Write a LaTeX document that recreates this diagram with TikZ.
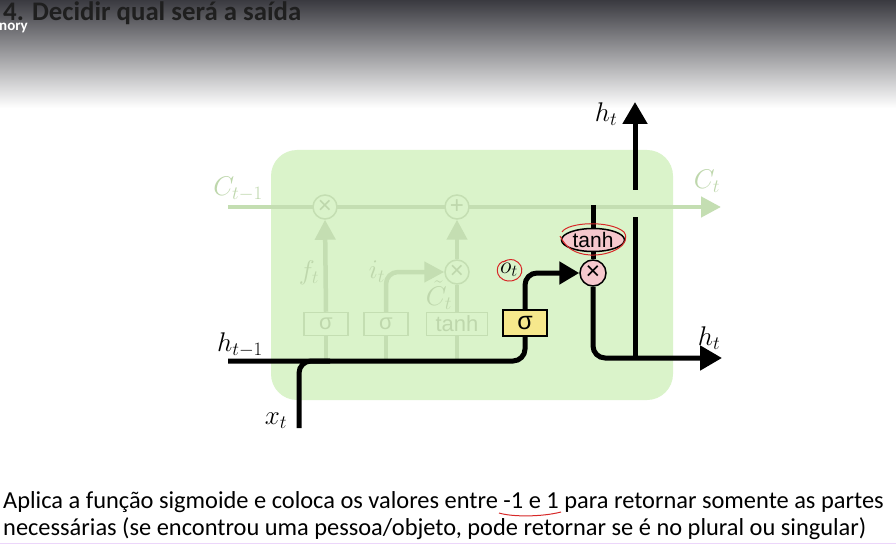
\RequirePackage{fix-cm}
\documentclass[tikz,border=0pt]{standalone}
\usepackage{fontspec}
\setmainfont{Carlito}
\newfontfamily\boxfont{Liberation Sans}
\usetikzlibrary{arrows.meta,shapes.geometric}
\definecolor{cellfill}{RGB}{218,243,202}
\definecolor{faded}{RGB}{196,222,178}
\definecolor{fadedtxt}{RGB}{190,215,172}
\definecolor{sigyellow}{RGB}{246,232,140}
\definecolor{opink}{RGB}{246,200,205}
\definecolor{topdark}{RGB}{58,58,64}
\definecolor{annot}{RGB}{215,40,40}
\tikzset{
  fline/.style={draw=faded,line width=4.5pt},
  bline/.style={draw=black,line width=5pt},
  ftip/.style={-{Triangle[length=20pt,width=20pt]}},
  fbox/.style={draw=faded,line width=1.5pt,fill=cellfill,minimum height=23pt,text=fadedtxt,font=\boxfont\fontsize{22}{22}\selectfont,inner sep=0pt},
  fcirc/.style={circle,draw=faded,line width=1.5pt,fill=cellfill,minimum size=24pt,inner sep=0pt,text=fadedtxt,font=\boxfont\fontsize{24}{24}\selectfont},
  flabel/.style={text=fadedtxt,font=\fontsize{27}{27}\selectfont,inner sep=0pt},
  blabel/.style={text=black,font=\fontsize{27}{27}\selectfont,inner sep=0pt},
  annotline/.style={draw=annot,line width=1pt},
  bodytext/.style={anchor=base west,inner sep=0pt,font=\fontsize{24.4}{24.4}\selectfont,text=black}
}
\begin{document}
\begin{tikzpicture}[x=1pt,y=-1pt]
\useasboundingbox (0,0) rectangle (896,545);
% background
\fill[white] (0,0) rectangle (896,545);
\shade[top color=topdark,bottom color=white] (0,0) rectangle (896,108);
\node[anchor=base west,inner sep=0pt,font=\fontsize{26.8}{26.8}\selectfont\bfseries,text=black!88] (title) at (3,21) {4. Decidir qual será a saída};
\node[anchor=base west,inner sep=0pt,font=\fontsize{15}{15}\selectfont\bfseries,text=white] (mem) at (-1,31) {nory};
% cell
\fill[cellfill,rounded corners=26pt] (271,150) rectangle (673,400);
% faded cell state line
\coordinate (cin) at (228,207);
\coordinate (cout) at (721,207);
\draw[fline,ftip] (cin) -- (cout);
\node[fcirc] (fmul) at (325,207) {×};
\node[fcirc] (fadd) at (457,207) {+};
\node[fcirc] (imul) at (457,272) {×};
\node[fbox,minimum width=44pt] (fsig) at (326,324) {σ};
\node[fbox,minimum width=44pt] (isig) at (386,324) {σ};
\node[fbox,minimum width=61pt] (ftanh) at (457,324) {tanh};
\draw[fline,ftip] (fsig.north) -- (fmul.south);
\draw[fline,ftip] (imul.north) -- (fadd.south);
\draw[fline] (ftanh.north) -- (imul.south);
\draw[fline,ftip,rounded corners=12pt] (isig.north) |- (imul.west);
\draw[fline] (fsig.south) -- (326,361);
\draw[fline] (isig.south) -- (386,361);
\draw[fline] (ftanh.south) -- (457,361);
\node[flabel] (lct1) at (238,189) {$C_{t-1}$};
\node[flabel] (lct) at (707,181) {$C_t$};
\node[flabel] (lft) at (309,273) {$f_t$};
\node[flabel] (lit) at (377,272) {$i_t$};
\node[flabel] (lctil) at (439,295) {$\tilde{C}_t$};
% black paths
\node[draw=black,line width=1.5pt,fill=sigyellow,minimum width=44pt,minimum height=26pt,inner sep=0pt,font=\boxfont\fontsize{25}{25}\selectfont] (osig) at (525,323) {σ};
\node[circle,draw=black,line width=1.5pt,fill=opink,minimum size=26pt,inner sep=0pt,font=\boxfont\fontsize{25}{25}\selectfont] (omul) at (593,273) {×};
\node[ellipse,draw=black,line width=1.5pt,fill=opink,minimum width=63pt,minimum height=23pt,inner sep=0pt,font=\boxfont\fontsize{21}{21}\selectfont] (otanh) at (593,240) {tanh};
\coordinate (hin) at (228,361);
\coordinate (xin) at (299,428);
\coordinate (xjoin) at (330,361);
\coordinate (ctap) at (593,205);
\coordinate (hout) at (722,358);
\coordinate (hbot) at (635,358);
\coordinate (hmid) at (635,217);
\coordinate (hup0) at (635,190);
\coordinate (hup) at (635,102);
\draw[bline,rounded corners=12pt] (hin) -| (osig.south);
\draw[bline,rounded corners=12pt] (xin) |- (xjoin);
\draw[bline,rounded corners=12pt,-{Triangle[length=20pt,width=22pt]}] (osig.north) |- (omul.west);
\draw[bline] (ctap) -- (otanh.north);
\draw[bline] (otanh.south) -- (omul.north);
\draw[bline,rounded corners=12pt,-{Triangle[length=22pt,width=24pt]}] (omul.south) |- (hout);
\draw[bline] (hbot) -- (hmid);
\draw[bline,-{Triangle[length=22pt,width=24pt]}] (hup0) -- (hup);
\node[blabel] (lhin) at (240,345) {$h_{t-1}$};
\node[blabel] (lx) at (276,421) {$x_t$};
\node[blabel] (lhup) at (606,114) {$h_t$};
\node[blabel] (lhout) at (709,338) {$h_t$};
\node[blabel,font=\fontsize{24}{24}\selectfont] (lot) at (509,270) {$o_t$};
% hand annotations
\draw[annotline] (562,232) .. controls (568,222) and (610,220) .. (624,232) .. controls (632,244) and (612,256) .. (590,255) .. controls (575,254) and (566,248) .. (560,236);
\draw[annotline] (506,261) .. controls (495,261) and (493,279) .. (508,281) .. controls (523,282) and (527,265) .. (514,260) .. controls (510,259) and (506,260) .. (503,262);
% body text
\node[bodytext] (l1) at (3,508) {Aplica a função sigmoide e coloca os valores entre -1 e 1 para retornar somente as partes};
\node[bodytext] (l2) at (3,535) {necessárias (se encontrou uma pessoa/objeto, pode retornar se é no plural ou singular)};
\draw[annotline] (499,513) .. controls (512,517) and (542,517) .. (561,512);
\draw[draw={rgb,255:red,236;green,214;blue,250},line width=1.5pt] (0,543.5) -- (896,543.5);
\end{tikzpicture}
\end{document}
